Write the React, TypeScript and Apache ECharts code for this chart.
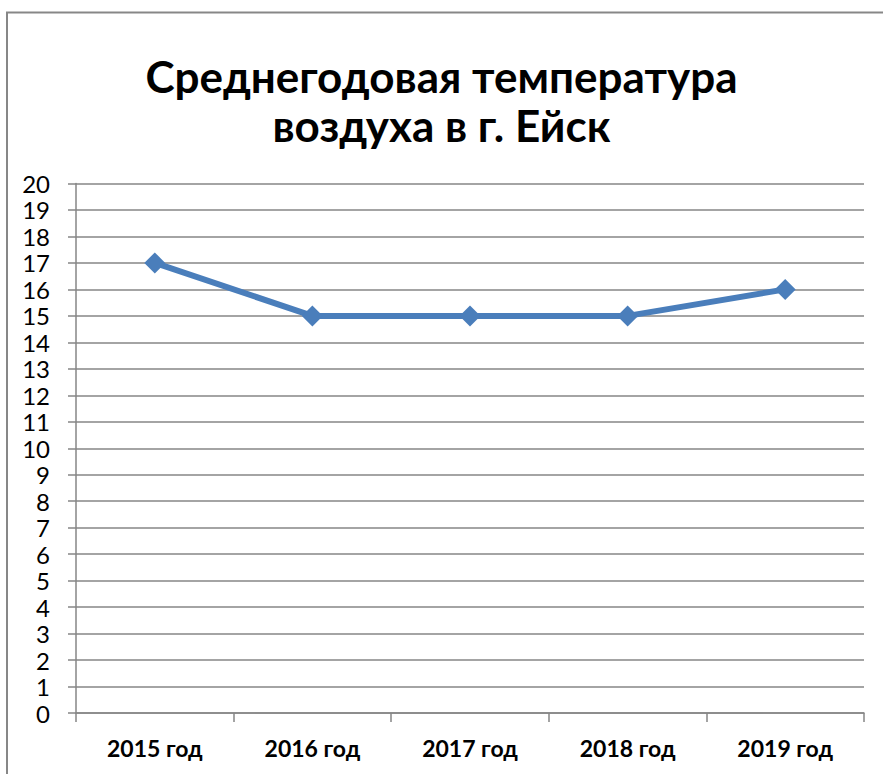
import React, { useEffect, useRef } from "react";
import * as echarts from "echarts";

const titleText = "Среднегодовая температура\nвоздуха в г. Ейск";
const categories = ["2015 год", "2016 год", "2017 год", "2018 год", "2019 год"];
const temperatures = [17, 15, 15, 15, 16];
const yMin = 0;
const yMax = 20;
const yInterval = 1;

export default function App() {
  const ref = useRef<HTMLDivElement>(null);
  useEffect(() => {
    if (!ref.current) return;
    const chart = echarts.init(ref.current, undefined, { renderer: "svg" });
    chart.setOption({
      animation: false,
      backgroundColor: "#ffffff",
      title: {
        text: titleText,
        left: "center",
        top: 46,
        textStyle: {
          fontFamily: "Lato",
          fontSize: 44,
          fontWeight: "bold",
          color: "#000000",
          lineHeight: 49,
        },
      },
      graphic: [
        {
          type: "rect",
          shape: { x: 7, y: 12.5, width: 900, height: 800 },
          style: { fill: "none", stroke: "#878787", lineWidth: 2 },
          silent: true,
        },
      ],
      grid: { left: 76, top: 183.5, right: 19, bottom: 61 },
      xAxis: {
        type: "category",
        data: categories,
        boundaryGap: true,
        axisLine: { show: true, lineStyle: { color: "#868686", width: 1.5 } },
        axisTick: { show: true, length: 9, lineStyle: { color: "#868686", width: 1.5 } },
        axisLabel: {
          fontFamily: "Lato",
          fontSize: 23,
          fontWeight: "bold",
          color: "#000000",
          margin: 23,
        },
        splitLine: { show: false },
      },
      yAxis: {
        type: "value",
        min: yMin,
        max: yMax,
        interval: yInterval,
        axisLine: { show: true, lineStyle: { color: "#868686", width: 1.5 } },
        axisTick: { show: true, length: 8, lineStyle: { color: "#868686", width: 1.5 } },
        axisLabel: {
          fontFamily: "Lato",
          fontSize: 24,
          color: "#000000",
          margin: 26,
        },
        splitLine: { show: true, lineStyle: { color: "#868686", width: 1.5 } },
      },
      series: [
        {
          type: "line",
          data: temperatures,
          symbol: "diamond",
          symbolSize: 21,
          lineStyle: { color: "#4A7EBB", width: 6 },
          itemStyle: { color: "#4A7EBB" },
        },
      ],
    });
    return () => chart.dispose();
  }, []);
  return (
    <div
      ref={ref}
      style={{ position: "absolute", left: 0, top: 0, width: 883, height: 774 }}
    />
  );
}
